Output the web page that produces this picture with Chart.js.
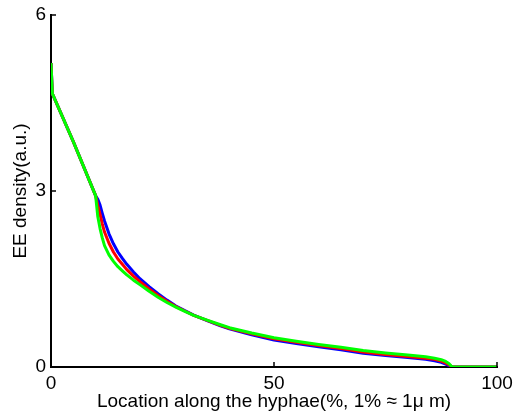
<!DOCTYPE html>
<html>
<head>
<meta charset="utf-8">
<script src="https://cdn.jsdelivr.net/npm/chart.js@4.4.1/dist/chart.umd.min.js"></script>
<style>
  html, body { margin: 0; padding: 0; background: #fff; }
  #wrap { width: 514px; height: 413px; }
</style>
</head>
<body>
<div id="wrap"><canvas id="chartDensidad"></canvas></div>
<script>
// Datos
const posiciones = [0, 0.3, 5, 10, 10.5, 11, 11.5, 12, 13, 14, 15, 16, 17, 18.5, 20, 22, 24, 26, 28, 30, 32, 35, 38, 40, 45, 50, 55, 60, 65, 70, 75, 80, 84, 86, 87.5, 88.5, 89.2, 89.7, 90, 95, 100];
const densidadAzul = [5.18, 4.66, 3.84, 2.92, 2.86, 2.76, 2.62, 2.49, 2.27, 2.10, 1.96, 1.85, 1.75, 1.62, 1.50, 1.37, 1.25, 1.14, 1.04, 0.96, 0.885, 0.79, 0.70, 0.65, 0.55, 0.46, 0.40, 0.345, 0.295, 0.235, 0.195, 0.16, 0.13, 0.105, 0.08, 0.05, 0.025, 0.005, 0, 0, 0];
const densidadRoja = [5.18, 4.66, 3.84, 2.92, 2.75, 2.60, 2.44, 2.30, 2.11, 1.96, 1.84, 1.75, 1.66, 1.55, 1.45, 1.33, 1.22, 1.12, 1.03, 0.955, 0.88, 0.795, 0.71, 0.66, 0.565, 0.48, 0.42, 0.365, 0.315, 0.255, 0.215, 0.18, 0.15, 0.13, 0.10, 0.07, 0.04, 0.01, 0, 0, 0];
const densidadVerde = [5.18, 4.66, 3.84, 2.92, 2.56, 2.36, 2.20, 2.07, 1.91, 1.80, 1.71, 1.64, 1.57, 1.48, 1.40, 1.29, 1.19, 1.10, 1.02, 0.95, 0.88, 0.80, 0.72, 0.67, 0.58, 0.50, 0.44, 0.385, 0.335, 0.28, 0.24, 0.205, 0.175, 0.15, 0.125, 0.095, 0.06, 0.02, 0, 0, 0];
const ticksX = [0, 50, 100];
const ticksY = [0, 3, 6];

const fuente = 'Liberation Sans, Arial, Helvetica, sans-serif';

function puntos(valores) {
  return posiciones.map((x, i) => ({ x: x, y: valores[i] }));
}

// Marcas de eje hacia dentro, estilo MATLAB
const marcasInternas = {
  id: 'marcasInternas',
  afterDatasetsDraw(chart) {
    const { ctx, chartArea, scales } = chart;
    ctx.save();
    ctx.strokeStyle = '#000';
    ctx.lineWidth = 1.5;
    ticksX.forEach(v => {
      const px = scales.x.getPixelForValue(v);
      ctx.beginPath();
      ctx.moveTo(px, chartArea.bottom);
      ctx.lineTo(px, chartArea.bottom - 5);
      ctx.stroke();
    });
    ticksY.forEach(v => {
      const py = scales.y.getPixelForValue(v);
      ctx.beginPath();
      ctx.moveTo(chartArea.left, py);
      ctx.lineTo(chartArea.left + 5, py);
      ctx.stroke();
    });
    ctx.restore();
  }
};

const serie = (valores, color, orden) => ({
  data: puntos(valores),
  borderColor: color,
  backgroundColor: color,
  borderWidth: 3,
  pointRadius: 0,
  tension: 0,
  borderJoinStyle: 'round',
  order: orden
});

new Chart(document.getElementById('chartDensidad'), {
  type: 'line',
  data: {
    datasets: [
      serie(densidadAzul, 'rgb(0,0,255)', 2),
      serie(densidadRoja, 'rgb(255,0,0)', 1),
      serie(densidadVerde, 'rgb(0,255,0)', 0)
    ]
  },
  options: {
    animation: false,
    responsive: true,
    maintainAspectRatio: false,
    layout: { padding: { top: 15, right: 17, left: 0, bottom: 0 } },
    plugins: {
      legend: { display: false },
      tooltip: { enabled: false }
    },
    scales: {
      x: {
        type: 'linear',
        min: 0,
        max: 100,
        afterFit: s => { s.height = 46; s.paddingLeft = 0; s.paddingRight = 0; },
        afterBuildTicks: s => { s.ticks = ticksX.map(v => ({ value: v })); },
        grid: { display: false, drawTicks: false },
        border: { display: true, color: '#000', width: 2 },
        ticks: { color: '#000', padding: 5, maxRotation: 0, font: { family: fuente, size: 19 } },
        title: {
          display: true,
          text: 'Location along the hyphae(%, 1% \u2248 1\u03bc m)',
          color: '#000',
          padding: { top: 0, bottom: 0 },
          font: { family: fuente, size: 19 }
        }
      },
      y: {
        type: 'linear',
        min: 0,
        max: 6,
        afterFit: s => { s.width = 51; s.paddingTop = 0; s.paddingBottom = 0; },
        afterBuildTicks: s => { s.ticks = ticksY.map(v => ({ value: v })); },
        grid: { display: false, drawTicks: false },
        border: { display: true, color: '#000', width: 2 },
        ticks: { color: '#000', padding: 5, font: { family: fuente, size: 19 } },
        title: {
          display: true,
          text: 'EE density(a.u.)',
          color: '#000',
          padding: { top: 9, bottom: 0 },
          font: { family: fuente, size: 19 }
        }
      }
    }
  },
  plugins: [marcasInternas]
});
</script>
</body>
</html>
